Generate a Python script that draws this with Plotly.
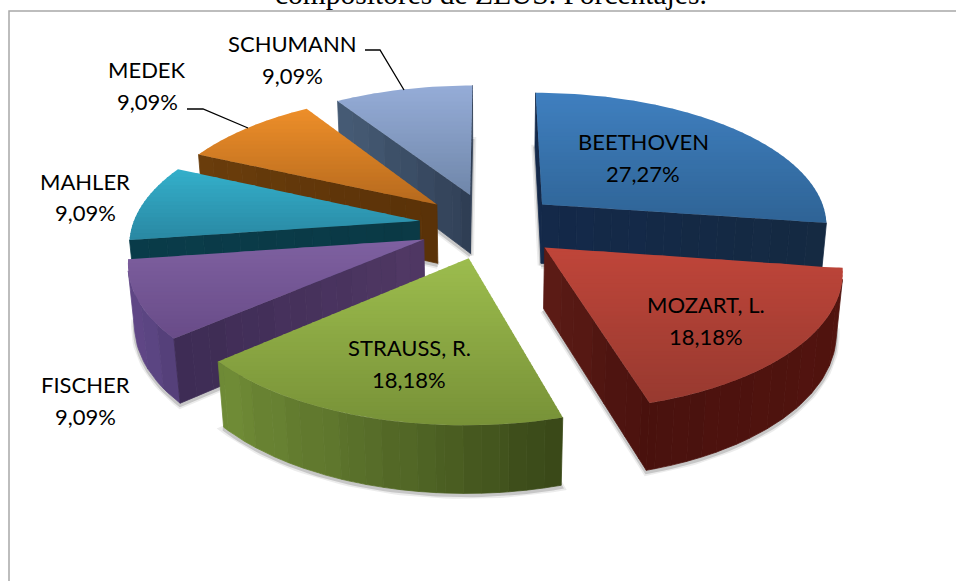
import numpy as np
import plotly.graph_objects as go

# ---- data ----
composers = ["BEETHOVEN", "MOZART, L.", "STRAUSS, R.", "FISCHER", "MAHLER", "MEDEK", "SCHUMANN"]
percentages = [27.27, 18.18, 18.18, 9.09, 9.09, 9.09, 9.09]
title_text = "compositores de ZEUS. Porcentajes."

# ---- styling: (top gradient top/bottom, arc wall left/right, radial wall left/right) ----
STYLE = {
    "BEETHOVEN": ("#4080c0", "#2f6496", "#152a44", "#152a44", "#14294a", "#152a42"),
    "MOZART, L.": ("#c0463a", "#983a30", "#4a120e", "#52140f", "#5c1c16", "#4a120e"),
    "STRAUSS, R.": ("#9dbd4e", "#789238", "#708c37", "#394818", "#708c37", "#394818"),
    "FISCHER": ("#7f61a1", "#694c88", "#614888", "#54407a", "#3e2c55", "#503864"),
    "MAHLER": ("#34b0cb", "#2a88a3", "#0a3c4a", "#0a3c4a", "#0a3c4a", "#0b3a46"),
    "MEDEK": ("#ee8f2a", "#b66a1e", "#6a3d0c", "#5a3208", "#6a3d0c", "#5a3208"),
    "SCHUMANN": ("#96add8", "#7087aa", "#475c76", "#303f55", "#475c76", "#303f55"),
}
DRAW_ORDER = ["SCHUMANN", "BEETHOVEN", "MEDEK", "MAHLER", "FISCHER", "MOZART, L.", "STRAUSS, R."]

# label centres (line 1, line 2) in page pixels
LABEL_POS = {
    "BEETHOVEN": (643, 141, 173),
    "MOZART, L.": (706, 304, 336),
    "STRAUSS, R.": (409, 347, 379),
    "FISCHER": (85, 384, 416),
    "MAHLER": (85, 181, 212),
    "MEDEK": (147, 69, 101),
    "SCHUMANN": (292, 43, 75),
}
LEADERS = [([365, 380, 404], [50, 50, 90]), ([187, 203, 248], [109, 109, 128])]

# ---- projection of the pie ----
CX, CY, A, B, H, K, M, PULL = 489.5, 225.5, 287, 133, 61, 0.142, 0.018, 0.248


def project(u, v, z):
    w = 1 + K * v + M * z
    return CX + A * u / w, CY + (-B * v + H * z) / w


def hex2rgb(c):
    return np.array([int(c[i:i + 2], 16) for i in (1, 3, 5)], float)


def mix(c1, c2, f, gain=1.0):
    f = min(max(f, 0), 1)
    rgb = (hex2rgb(c1) * (1 - f) + hex2rgb(c2) * f) * gain
    return "rgb(%d,%d,%d)" % tuple(np.clip(rgb, 0, 255))


def clip_band(poly, y1, y2):
    def clip(points, limit, keep_below):
        out = []
        n = len(points)
        for i in range(n):
            p, q = points[i], points[(i + 1) % n]
            pin = p[1] >= limit if keep_below else p[1] <= limit
            qin = q[1] >= limit if keep_below else q[1] <= limit
            if pin:
                out.append(p)
            if pin != qin:
                f = (limit - p[1]) / (q[1] - p[1])
                out.append((p[0] + f * (q[0] - p[0]), limit))
        return out
    res = clip(poly, y1, True)
    return clip(res, y2, False) if res else []


def area(pts):
    s = 0
    for i in range(len(pts)):
        x1, y1 = pts[i]
        x2, y2 = pts[(i + 1) % len(pts)]
        s += x1 * y2 - x2 * y1
    return s


fig = go.Figure()


def fill_poly(pts, color, lw=0.0):
    xs = [p[0] for p in pts] + [pts[0][0]]
    ys = [p[1] for p in pts] + [pts[0][1]]
    fig.add_trace(go.Scatter(x=xs, y=ys, mode="lines", fill="toself", fillcolor=color,
                             line=dict(color=color, width=lw), hoverinfo="skip", showlegend=False))


# cumulative angles (clockwise from 12 o'clock), derived from the values
total = sum(percentages)
edges = np.concatenate([[0], np.cumsum(percentages)]) / total * 2 * np.pi
geometry = {name: (edges[i], edges[i + 1]) for i, name in enumerate(composers)}

for name in DRAW_ORDER:
    t0, t1 = geometry[name]
    mid = (t0 + t1) / 2
    ou, ov = PULL * np.sin(mid), PULL * np.cos(mid)
    ctop, cbot, al, ar, rl, rr = STYLE[name]

    n_arc = max(int(np.degrees(t1 - t0) / 1.5), 2)
    ts = np.linspace(t0, t1, n_arc + 1)
    rad_steps = np.linspace(0, 1, 17)
    # outline in disc coordinates: apex -> rim(t0) -> arc -> rim(t1) -> apex
    outline = [(ou + r * np.sin(t0), ov + r * np.cos(t0), "r") for r in rad_steps[:-1]]
    outline += [(ou + np.sin(t), ov + np.cos(t), "a") for t in ts]
    outline += [(ou + r * np.sin(t1), ov + r * np.cos(t1), "r") for r in rad_steps[::-1][1:]]

    # soft shadow under the slice
    bottom = [project(u, v, 1) for u, v, _ in outline]
    bx = [p[0] for p in bottom] + [bottom[0][0]]
    by = [p[1] + 2 for p in bottom] + [bottom[0][1] + 2]
    for width, alpha in ((7, 0.10), (3.5, 0.22)):
        fig.add_trace(go.Scatter(x=bx, y=by, mode="lines",
                                 line=dict(color=f"rgba(70,70,70,{alpha})", width=width),
                                 hoverinfo="skip", showlegend=False))

    # visible side walls, merged into vertical colour bands
    top = [project(u, v, 0) for u, v, _ in outline]
    quads = []
    for i in range(len(outline)):
        j = (i + 1) % len(outline)
        quad = [top[i], top[j], bottom[j], bottom[i]]
        if area(quad) < 0:
            kind = "a" if outline[i][2] == "a" and outline[j][2] == "a" else "r"
            quads.append((i, j, kind, sum(p[0] for p in quad) / 4))
    xs_rad = [q[3] for q in quads if q[2] == "r"] or [0, 1]
    xs_arc = [q[3] for q in quads if q[2] == "a"] or [0, 1]
    groups = []
    for q in quads:
        key = (q[2], int(q[3] // 16))
        if groups and groups[-1][0] == key and groups[-1][1][-1][1] == q[0]:
            groups[-1][1].append(q)
        else:
            groups.append((key, [q]))
    # paint rear-most groups first
    groups.sort(key=lambda g: min(top[q[0]][1] for q in g[1]))
    for (kind, step), members in groups:
        idx = [members[0][0]] + [m[1] for m in members]
        poly = [top[i] for i in idx] + [bottom[i] for i in idx[::-1]]
        xq = (step + 0.5) * 16
        gain = 1 + 0.012 * np.sin(step * 2.3)
        if kind == "a":
            f = (xq - min(xs_arc)) / max(max(xs_arc) - min(xs_arc), 1)
            col = mix(al, ar, f, gain)
        else:
            f = (xq - min(xs_rad)) / max(max(xs_rad) - min(xs_rad), 1)
            col = mix(rl, rr, f, gain)
        fill_poly(poly, col, 0.8)

    # top face with vertical gradient
    ymin, ymax = min(p[1] for p in top), max(p[1] for p in top)
    bands = np.arange(ymin, ymax + 4, 4)
    for y1 in bands:
        band = clip_band(top, y1, y1 + 4.8)
        if len(band) >= 3:
            fill_poly(band, mix(ctop, cbot, (y1 + 2 - ymin) / (ymax - ymin)))

# chart-area border (left and top only are visible)
fig.add_trace(go.Scatter(x=[9, 9, 956], y=[581, 11, 11], mode="lines",
                         line=dict(color="#a8a8a8", width=1.5), hoverinfo="skip", showlegend=False))

# leader lines
for lx, ly in LEADERS:
    fig.add_trace(go.Scatter(x=lx, y=ly, mode="lines", line=dict(color="#000000", width=1.3),
                             hoverinfo="skip", showlegend=False))

# labels
font = dict(family="Lato", size=22, color="#000000")
annotations = []
for name, pct in zip(composers, percentages):
    x, y1, y2 = LABEL_POS[name]
    for text, y in ((name, y1), (f"{pct:.2f}".replace(".", ",") + "%", y2)):
        annotations.append(dict(x=x, y=y, xref="x", yref="y", text=text, showarrow=False,
                                xanchor="center", yanchor="middle", font=font))
annotations.append(dict(x=490.5, y=12, xref="x", yref="y", text=title_text, showarrow=False,
                        xanchor="center", yanchor="bottom",
                        font=dict(family="Liberation Serif", size=29.5, color="#000000")))

fig.update_layout(
    width=956, height=581, margin=dict(l=0, r=0, t=0, b=0),
    paper_bgcolor="white", plot_bgcolor="white", showlegend=False, hovermode=False,
    xaxis=dict(range=[0, 956], visible=False, fixedrange=True),
    yaxis=dict(range=[581, 0], visible=False, fixedrange=True),
    annotations=annotations,
)
fig.write_html("out.html", config={"displayModeBar": False},
               post_script="document.body.style.margin='0';document.body.style.overflow='hidden';")
